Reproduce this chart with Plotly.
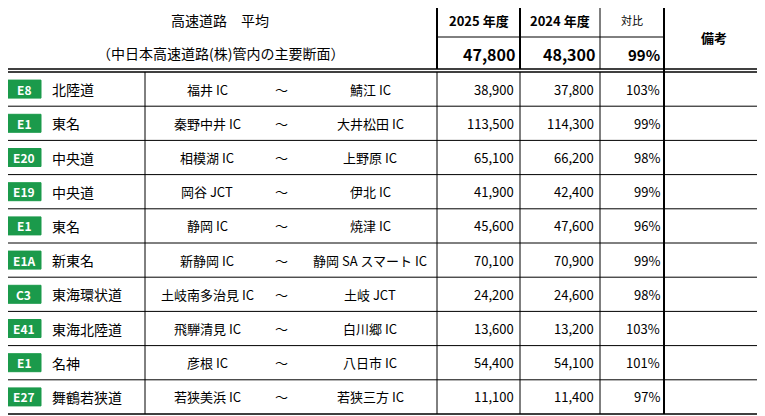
import plotly.graph_objects as go

route_codes = ["E8", "E1", "E20", "E19", "E1", "E1A", "C3", "E41", "E1", "E27"]
route_names = ["北陸道", "東名", "中央道", "中央道", "東名", "新東名", "東海環状道", "東海北陸道", "名神", "舞鶴若狭道"]
from_ic = ["福井 IC", "秦野中井 IC", "相模湖 IC", "岡谷 JCT", "静岡 IC", "新静岡 IC", "土岐南多治見 IC", "飛騨清見 IC", "彦根 IC", "若狭美浜 IC"]
to_ic = ["鯖江 IC", "大井松田 IC", "上野原 IC", "伊北 IC", "焼津 IC", "静岡 SA スマート IC", "土岐 JCT", "白川郷 IC", "八日市 IC", "若狭三方 IC"]
vol_2025 = [38900, 113500, 65100, 41900, 45600, 70100, 24200, 13600, 54400, 11100]
vol_2024 = [37800, 114300, 66200, 42400, 47600, 70900, 24600, 13200, 54100, 11400]
ratio = [103, 99, 98, 99, 96, 99, 98, 103, 101, 97]
avg_2025 = 47800
avg_2024 = 48300
avg_ratio = 99
title1 = "高速道路　平均"
title2 = "（中日本高速道路(株)管内の主要断面）"

W, H = 765, 416
OFF = 8  # page body margin
FONT = "Noto Sans CJK JP, Noto Sans, sans-serif"
X0, XS, XA, XB, XR, XM, X1 = 3, 145, 437, 520, 600, 664, 763
Y0, YH1, YH2, YR = 3, 37, 69, 72
ROWH = (414 - YR) / len(route_codes)
GREEN = "#1b9a4b"

shapes, ann = [], []
def line(x0, y0, x1, y1, w=1):
    shapes.append(dict(type="line", x0=x0, y0=y0, x1=x1, y1=y1, line=dict(color="black", width=w), layer="above"))
def text(x, y, s, anchor="center", size=13, color="black", bold=False):
    if bold:
        s = "<b>" + s + "</b>"
    ann.append(dict(x=x, y=y, text=s, showarrow=False, xanchor=anchor, yanchor="middle",
                    font=dict(family=FONT, size=size, color=color)))

shapes.append(dict(type="rect", x0=X0, y0=Y0, x1=X1, y1=414, line=dict(color="black", width=1.5)))
line(XA, Y0, XA, YH2, 2)
line(XB, Y0, XB, YH2, 2)
line(XR, Y0, XR, YH2, 1)
line(XM, Y0, XM, 414, 2)
line(XA, YH1, XM, YH1, 1)
line(X0, YH2, X1, YH2, 1.5)
line(X0, YR, X1, YR, 1.5)
text((X0 + XA) / 2, 20, title1, size=14)
text((X0 + XA) / 2, 53, title2, size=14)
text((XA + XB) / 2, 20, "2025 年度", size=13, bold=True)
text((XB + XR) / 2, 20, "2024 年度", size=13, bold=True)
text((XR + XM) / 2, 20, "対比", size=11)
text((XM + X1) / 2, 37, "備考", size=13, bold=True)
text(XB - 3, 54, f"{avg_2025:,}", anchor="right", size=16, bold=True)
text(XR - 3, 54, f"{avg_2024:,}", anchor="right", size=16, bold=True)
text(XM - 2, 54, f"{avg_ratio}%", anchor="right", size=15, bold=True)

for x in (XS, XA, XB, XR):
    line(x, YR, x, 414, 1)

for i, code in enumerate(route_codes):
    y0 = YR + i * ROWH
    yc = y0 + ROWH / 2
    if i > 0:
        line(X0, y0, X1, y0, 1)
    shapes.append(dict(type="rect", x0=6, y0=yc - 9, x1=41, y1=yc + 9, fillcolor=GREEN,
                       line=dict(color=GREEN, width=1), layer="above"))
    text(23.5, yc, code, size=12, color="white", bold=True)
    text(50, yc, route_names[i], anchor="left", size=14)
    text(207, yc, from_ic[i], size=13)
    text(281, yc, "～", size=13)
    text(370, yc, to_ic[i], size=13)
    text(XB - 4, yc, f"{vol_2025[i]:,}", anchor="right", size=13)
    text(XR - 4, yc, f"{vol_2024[i]:,}", anchor="right", size=13)
    text(XM - 2, yc, f"{ratio[i]}%", anchor="right", size=13)

fig = go.Figure()
fig.update_layout(width=W, height=H, margin=dict(l=0, r=0, t=0, b=0),
                  plot_bgcolor="white", paper_bgcolor="white",
                  xaxis=dict(range=[OFF, W + OFF], visible=False, fixedrange=True),
                  yaxis=dict(range=[H + OFF, OFF], visible=False, fixedrange=True),
                  shapes=shapes, annotations=ann, showlegend=False)
fig.write_html("out.html", config={"displayModeBar": False})
